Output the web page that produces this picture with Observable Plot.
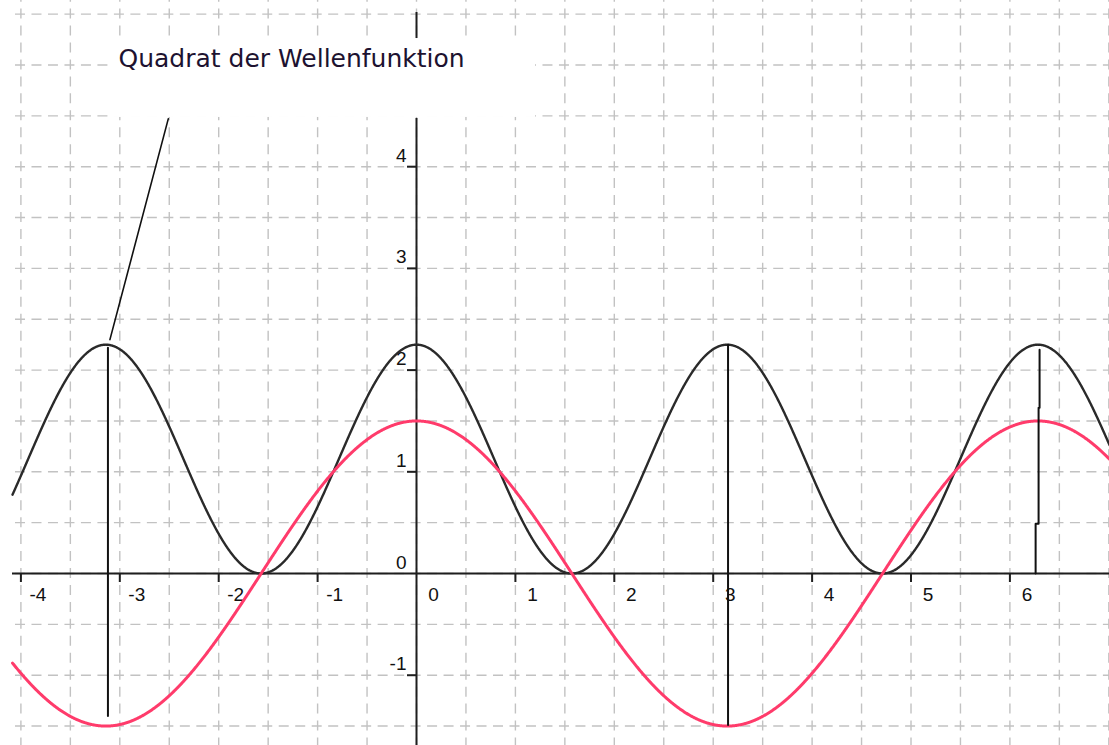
<!DOCTYPE html>
<html>
<head>
<meta charset="utf-8">
<script src="https://cdn.jsdelivr.net/npm/d3@7"></script>
<script src="https://cdn.jsdelivr.net/npm/@observablehq/plot@0.6"></script>
<style>
  html, body { margin: 0; padding: 0; background: #fff; }
  #chart svg { display: block; }
</style>
</head>
<body>
<div id="chart"></div>
<script>
// Visible window of the coordinate plane
const xDomain = [-4.085, 7.007];
const yDomain = [-1.691, 5.634];

// Axis ticks and their labels
const xTicks = [-4, -3, -2, -1, 0, 1, 2, 3, 4, 5, 6];
const xTickLabels = ["-4", "-3", "-2", "-1", "0", "1", "2", "3", "4", "5", "6"];
const yTicks = [-1, 0, 1, 2, 3, 4];
const yTickLabels = ["-1", "0", "1", "2", "3", "4"];

// Dashed grid every half unit
const xGrid = [-4, -3.5, -3, -2.5, -2, -1.5, -1, -0.5, 0, 0.5, 1, 1.5, 2, 2.5, 3, 3.5, 4, 4.5, 5, 5.5, 6, 6.5, 7];
const yGrid = [-1.5, -1, -0.5, 0, 0.5, 1, 1.5, 2, 2.5, 3, 3.5, 4, 4.5, 5, 5.5];

// Wave function psi(x) = A·cos(x − phi) and its square
const waveAmplitude = 1.5;
const wavePhase = 0;
const psi = x => waveAmplitude * Math.cos(x - wavePhase);
const density = x => psi(x) ** 2;

// Annotation: caption, its white backing, the leader and the marker lines
const captionText = "Quadrat der Wellenfunktion";
const captionAt = [{x: -3.013, y: 5.054}];
const captionBox = [{x1: -3.064, x2: 1.203, y1: 4.484, y2: 5.241}];
const leaderLine = [{x: -3.10, y: 2.30}, {x: -2.51, y: 4.47}];
const markerLeft = [{x: -3.12, y: 2.22}, {x: -3.12, y: -1.40}];
const markerMiddle = [{x: 3.15, y: 2.25}, {x: 3.15, y: -1.49}];
const markerRight = [
  {x: 6.26, y: 0}, {x: 6.26, y: 0.49}, {x: 6.29, y: 0.49},
  {x: 6.29, y: 1.63}, {x: 6.30, y: 1.63}, {x: 6.30, y: 2.20}
];
// Visible pieces of the vertical axis
const yAxisMain = [{y1: -1.691, y2: 4.474}];
const yAxisStub = [{y1: 5.26, y2: 5.516}];

const W = 1109, H = 745, ML = 12;
const pxX = (W - ML) / (xDomain[1] - xDomain[0]);
const pxY = H / (yDomain[1] - yDomain[0]);

const samples = d3.range(xDomain[0], xDomain[1] + 0.004, 0.004);
const psiCurve = samples.map(x => ({x, y: psi(x)}));
const densityCurve = samples.map(x => ({x, y: density(x)}));

const gridStroke = "#c2c2c2";
const axisColor = "#1e1e1e";
const font = "'Liberation Sans', Arial, sans-serif";

const chart = Plot.plot({
  width: W,
  height: H,
  marginLeft: ML,
  marginRight: 0,
  marginTop: 0,
  marginBottom: 0,
  x: {domain: xDomain, axis: null},
  y: {domain: yDomain, axis: null},
  style: {background: "#fff", fontFamily: font},
  marks: [
    // grid
    Plot.ruleX(xGrid, {x: d => d, y1: yDomain[1], y2: yDomain[0], stroke: gridStroke, strokeWidth: 1.4,
      strokeDasharray: `10 ${(pxY / 2) / 3 - 10}`, strokeDashoffset: (pxY / 6) - 8.6}),
    Plot.ruleY(yGrid, {y: d => d, x1: xDomain[0], x2: xDomain[1], stroke: gridStroke, strokeWidth: 1.4,
      strokeDasharray: `10 ${(pxX / 2) / 3 - 10}`, strokeDashoffset: (pxX / 6) - 3}),
    // white backing of the caption
    Plot.rect(captionBox, {x1: "x1", x2: "x2", y1: "y1", y2: "y2", fill: "#fff"}),
    // axes
    Plot.ruleY([0], {x1: xDomain[0], x2: xDomain[1], stroke: axisColor, strokeWidth: 2}),
    Plot.ruleX(yAxisMain, {x: 0, y1: "y1", y2: "y2", stroke: axisColor, strokeWidth: 2}),
    Plot.ruleX(yAxisStub, {x: 0, y1: "y1", y2: "y2", stroke: axisColor, strokeWidth: 2}),
    // tick marks
    Plot.ruleX(xTicks.filter(d => d !== 0), {x: d => d, y1: 0, y2: -9 / pxY, stroke: axisColor, strokeWidth: 2}),
    Plot.ruleY(yTicks.filter(d => d !== 0), {y: d => d, x1: 0, x2: -9 / pxX, stroke: axisColor, strokeWidth: 2}),
    // tick labels
    Plot.text(xTicks, {x: d => d, y: 0, text: (d, i) => xTickLabels[i], dx: 17, dy: 21,
      fontSize: 19, fill: "#111", textAnchor: "middle", lineAnchor: "middle"}),
    Plot.text(yTicks, {x: 0, y: d => d, text: (d, i) => yTickLabels[i], dx: -10, dy: -11,
      fontSize: 19, fill: "#111", textAnchor: "end", lineAnchor: "middle"}),
    // curves
    Plot.line(densityCurve, {x: "x", y: "y", stroke: "#2a2a2a", strokeWidth: 2.4, curve: "linear"}),
    Plot.line(psiCurve, {x: "x", y: "y", stroke: "#ff3b6b", strokeWidth: 3, curve: "linear"}),
    // marker lines
    Plot.line(markerLeft, {x: "x", y: "y", stroke: "#111", strokeWidth: 2}),
    Plot.line(markerMiddle, {x: "x", y: "y", stroke: "#111", strokeWidth: 2}),
    Plot.line(markerRight, {x: "x", y: "y", stroke: "#111", strokeWidth: 2, curve: "linear"}),
    Plot.line(leaderLine, {x: "x", y: "y", stroke: "#111", strokeWidth: 1.6}),
    // caption
    Plot.text(captionAt, {x: "x", y: "y", text: () => captionText, textAnchor: "start", lineAnchor: "middle",
      fontSize: 25, fill: "#1d1230", fontFamily: "'DejaVu Sans', Tahoma, sans-serif"})
  ]
});

document.getElementById("chart").appendChild(chart);
</script>
</body>
</html>
